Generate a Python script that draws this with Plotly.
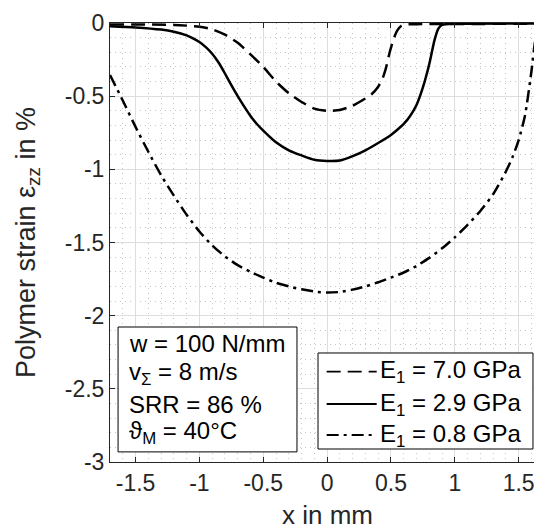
import plotly.graph_objects as go

# ---------------- data ----------------
x_e70 = [-1.7, -1.2, -1.0, -0.9, -0.8, -0.7, -0.6, -0.5, -0.4, -0.3, -0.2, -0.1, 0.0,
         0.1, 0.2, 0.3, 0.35, 0.4, 0.43, 0.46, 0.49, 0.52, 0.55, 0.58, 0.62, 0.7, 1.7]
y_e70 = [-0.01, -0.013, -0.025, -0.043, -0.08, -0.135, -0.215, -0.30, -0.40, -0.48, -0.54, -0.585, -0.60,
         -0.595, -0.565, -0.515, -0.485, -0.435, -0.39, -0.31, -0.20, -0.11, -0.05, -0.02, -0.01, -0.008, -0.005]

x_e29 = [-1.7, -1.5, -1.3, -1.2, -1.1, -1.05, -1.0, -0.95, -0.9, -0.85, -0.8, -0.75, -0.7, -0.65, -0.6, -0.55, -0.5,
         -0.4, -0.3, -0.2, -0.1, 0.0, 0.1, 0.2, 0.3, 0.4, 0.5, 0.55, 0.6, 0.65, 0.7, 0.75, 0.8, 0.84, 0.87, 0.9, 1.0, 1.7]
y_e29 = [-0.022, -0.03, -0.045, -0.06, -0.085, -0.105, -0.13, -0.165, -0.21, -0.27, -0.345, -0.425, -0.50, -0.57, -0.635, -0.69, -0.735,
         -0.815, -0.87, -0.905, -0.935, -0.943, -0.94, -0.91, -0.87, -0.82, -0.765, -0.73, -0.69, -0.635, -0.56, -0.44, -0.28, -0.12, -0.04, -0.013, -0.005, -0.003]

x_e08 = [-1.7, -1.6, -1.5, -1.4, -1.3, -1.2, -1.1, -1.0, -0.9, -0.8, -0.7, -0.6, -0.5, -0.4, -0.3, -0.2, -0.1, 0.0,
         0.1, 0.2, 0.3, 0.4, 0.5, 0.6, 0.7, 0.8, 0.9, 1.0, 1.1, 1.2, 1.3, 1.4, 1.45, 1.5, 1.55, 1.6, 1.63, 1.66, 1.7]
y_e08 = [-0.355, -0.53, -0.71, -0.88, -1.04, -1.18, -1.31, -1.425, -1.52, -1.595, -1.655, -1.70, -1.74, -1.775, -1.80, -1.82, -1.835, -1.842,
         -1.838, -1.822, -1.80, -1.772, -1.74, -1.705, -1.66, -1.605, -1.54, -1.465, -1.38, -1.285, -1.17, -1.015, -0.92, -0.80, -0.63, -0.33, -0.12, -0.03, -0.01]

series_names = ["E<sub>1</sub> = 7.0 GPa", "E<sub>1</sub> = 2.9 GPa", "E<sub>1</sub> = 0.8 GPa"]
param_lines = ["w = 100 N/mm", "v<sub>Σ</sub> = 8 m/s", "SRR = 86 %", "ϑ<sub>M</sub> = 40°C"]

x_ticks = [-1.5, -1.0, -0.5, 0.0, 0.5, 1.0, 1.5]
x_ticktext = ["-1.5", "-1", "-0.5", "0", "0.5", "1", "1.5"]
y_ticks = [0.0, -0.5, -1.0, -1.5, -2.0, -2.5, -3.0]
y_ticktext = ["0", "-0.5", "-1", "-1.5", "-2", "-2.5", "-3"]

x_title = "x in mm"
y_title = "Polymer strain ε<sub>zz</sub> in %"

# ---------------- styling ----------------
FONT = "Liberation Sans, Arial, sans-serif"
AX = "#262626"
DASHES = ["14px,7px", "solid", "12px,5px,3px,5px"]
LW = 2.5

fig = go.Figure()
for xs, ys, nm, d in zip([x_e70, x_e29, x_e08], [y_e70, y_e29, y_e08], series_names, DASHES):
    fig.add_trace(go.Scatter(x=xs, y=ys, mode="lines", name=nm, showlegend=False,
                             line=dict(color="black", width=LW, dash=d, shape="spline", smoothing=0.6)))

axis_common = dict(
    showline=True, linecolor=AX, linewidth=1,
    ticks="inside", ticklen=5, tickcolor=AX, tickwidth=1,
    showgrid=True, gridcolor="#dedede", gridwidth=1,
    zeroline=False, ticklabeloverflow="allow",
    tickfont=dict(family=FONT, size=23, color=AX),
)
minor_grid = dict(dtick=0.1, tick0=0, showgrid=True, griddash="1px,4px", gridcolor="#c4c4c4", ticks="")

fig.update_xaxes(range=[-1.7, 1.62], tickvals=x_ticks, ticktext=x_ticktext, mirror="ticks",
                 minor=minor_grid, **axis_common)
fig.update_yaxes(range=[-3, 0], tickvals=y_ticks, ticktext=y_ticktext, mirror=False,
                 minor=minor_grid,
                 title=dict(text=y_title, font=dict(family=FONT, size=27, color=AX), standoff=21),
                 **axis_common)

# x-axis title placed as an annotation (allowed to sit right at the bottom edge)
fig.add_annotation(xref="paper", yref="paper", x=0.512, y=-0.1207, xanchor="center", yanchor="middle",
                   text=x_title, showarrow=False, font=dict(family=FONT, size=26, color=AX))

# ---------------- parameter box ----------------
fig.add_shape(type="rect", xref="paper", yref="paper", x0=0.019, x1=0.441, y0=0.023, y1=0.3075,
              line=dict(color="black", width=1), fillcolor="white", layer="above")
for txt, yy in zip(param_lines, [0.271, 0.2027, 0.1321, 0.0661]):
    fig.add_annotation(xref="paper", yref="paper", x=0.0394, y=yy, xanchor="left", yanchor="middle",
                       text=txt, showarrow=False, font=dict(family=FONT, size=24, color="black"))

# ---------------- legend box ----------------
fig.add_shape(type="rect", xref="paper", yref="paper", x0=0.4906, x1=0.9976, y0=0.0296, y1=0.2483,
              line=dict(color="black", width=1), fillcolor="white", layer="above")
for nm, d, yy in zip(series_names, DASHES, [0.2057, 0.1321, 0.0615]):
    fig.add_shape(type="line", xref="paper", yref="paper", x0=0.511, x1=0.629, y0=yy, y1=yy,
                  line=dict(color="black", width=1.8, dash=d), layer="above")
    fig.add_annotation(xref="paper", yref="paper", x=0.633, y=yy, xanchor="left", yanchor="middle",
                       text=nm, showarrow=False, font=dict(family=FONT, size=24, color="black"))

fig.update_layout(
    width=534, height=530,
    margin=dict(l=110, r=0, t=23, b=68, autoexpand=False),
    paper_bgcolor="white", plot_bgcolor="white",
    font=dict(family=FONT, color=AX),
    showlegend=False,
)

fig.write_html("out.html")
